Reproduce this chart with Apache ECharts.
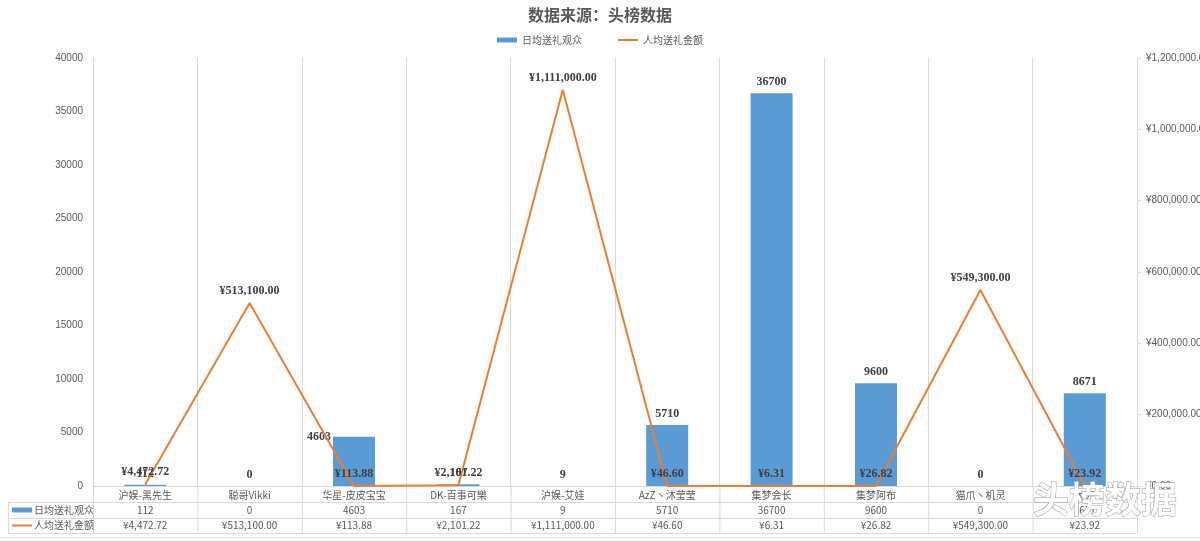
<!DOCTYPE html>
<html><head><meta charset="utf-8">
<script src="https://cdn.jsdelivr.net/npm/echarts@6/dist/echarts.min.js"></script>
<style>html,body{margin:0;padding:0;background:#fff}#c{width:1200px;height:541px}</style>
</head><body><div id="c"></div>
<script>
const categories = ['沪娱-黑先生','聪哥Vikki','华星-皮皮宝宝','DK-百事可樂','沪娱-艾娃','AzZ丶沐莹莹','集梦会长','集梦阿布','猫爪丶机灵','大刀'];
const audience = [112, 0, 4603, 167, 9, 5710, 36700, 9600, 0, 8671];
const amount = [4472.72, 513100, 113.88, 2101.22, 1111000, 46.60, 6.31, 26.82, 549300, 23.92];
const audienceTableText = ['112','0','4603','167','9','5710','36700','9600','0','8671'];
const amountTableText = ['¥4,472.72','¥513,100.00','¥113.88','¥2,101.22','¥1,111,000.00','¥46.60','¥6.31','¥26.82','¥549,300.00','¥23.92'];
const seriesNames = ['日均送礼观众','人均送礼金额'];

const fmtYen = v => '¥' + Number(v).toLocaleString('en-US',{minimumFractionDigits:2, maximumFractionDigits:2});
const gray = '#595959', lineGray = '#d9d9d9';
const labelFont = {fontFamily:'Liberation Serif', fontWeight:'bold', fontSize:12, color:'#404040'};

const chart = echarts.init(document.getElementById('c'));
const barData = audience.map((v,i) => i === 2 ? {value:v, label:{position:[-2,0], align:'right', verticalAlign:'middle'}} : v);

chart.setOption({
  animation:false,
  title:{text:'数据来源：头榜数据', left:'center', top:2, textStyle:{fontFamily:'Noto Sans CJK SC', fontSize:16, fontWeight:'bold', color:gray}},
  legend:{top:30, left:'center', itemWidth:20, itemHeight:5, itemGap:36,
    textStyle:{fontFamily:'Noto Sans CJK SC', fontSize:10, color:gray},
    data:[{name:seriesNames[0], icon:'rect'},
          {name:seriesNames[1], icon:'path://M0,0L0.01,0L0.01,0.01L0,0.01Z M0,1.6L20,1.6L20,3.4L0,3.4Z M19.99,4.99L20,4.99L20,5L19.99,5Z'}]},
  grid:{left:93, right:63, top:58, bottom:55, containLabel:false, outerBoundsMode:'none'},
  xAxis:{type:'category', data:categories,
    axisLine:{show:true, lineStyle:{color:lineGray}}, axisTick:{show:false},
    splitLine:{show:true, lineStyle:{color:lineGray}},
    axisLabel:{margin:4, fontFamily:'Noto Sans CJK SC', fontSize:10, color:gray, interval:0}},
  yAxis:[
    {type:'value', min:0, max:40000, interval:5000, position:'left',
      axisLine:{show:true, lineStyle:{color:lineGray}}, axisTick:{show:false}, splitLine:{show:false},
      axisLabel:{fontFamily:'Liberation Sans', fontSize:10, color:gray, margin:10, formatter:v => String(v)}},
    {type:'value', min:0, max:1200000, interval:200000, position:'right',
      axisLine:{show:true, lineStyle:{color:lineGray}}, axisTick:{show:true, inside:false, length:4, lineStyle:{color:lineGray}}, splitLine:{show:false},
      axisLabel:{fontFamily:'Liberation Sans', fontSize:10, color:gray, margin:9, formatter:fmtYen}}
  ],
  series:[
    {name:seriesNames[0], type:'bar', data:barData, barWidth:42, yAxisIndex:0, itemStyle:{color:'#5b9bd5'},
      label:Object.assign({show:true, position:'top', distance:5}, labelFont), z:2},
    {name:seriesNames[1], type:'line', data:amount, yAxisIndex:1, symbol:'circle', symbolSize:0, showSymbol:true,
      lineStyle:{color:'#ed7d31', width:2}, itemStyle:{color:'#ed7d31'},
      label:Object.assign({show:true, position:'top', distance:6, formatter:p => fmtYen(p.value)}, labelFont), z:3}
  ]
});

// data table below the chart, positioned from the axis scale
const c0 = chart.convertToPixel({xAxisIndex:0}, 0);
const c1 = chart.convertToPixel({xAxisIndex:0}, 1);
const bw = c1 - c0;
const x0 = c0 - bw/2, xEnd = x0 + bw*categories.length;
const yAxisBase = chart.convertToPixel({yAxisIndex:0}, 0);
const r1 = yAxisBase + 16, r2 = r1 + 16, r3 = r2 + 15;
const tableLeft = 8;
const ls = {stroke:lineGray, lineWidth:1};
const els = [];
const hl = (xa, xb, y) => els.push({type:'line', shape:{x1:xa, y1:y+0.5, x2:xb, y2:y+0.5}, style:ls, silent:true});
const vl = (x, ya, yb) => els.push({type:'line', shape:{x1:x+0.5, y1:ya, x2:x+0.5, y2:yb}, style:ls, silent:true});
hl(tableLeft, xEnd, r1); hl(tableLeft, xEnd, r2); hl(tableLeft, xEnd, r3);
vl(tableLeft, r1, r3);
for (let i = 0; i <= categories.length; i++) vl(x0 + bw*i, yAxisBase, r3);
const txt = (x, y, s, align) => els.push({type:'text', x:x, y:y, style:{text:s, fill:gray, font:'10px "Noto Sans CJK SC"', align:align||'center', verticalAlign:'middle'}, silent:true});
categories.forEach((c, i) => {
  const cx = chart.convertToPixel({xAxisIndex:0}, i);
  txt(cx, (r1+r2)/2, audienceTableText[i]);
  txt(cx, (r2+r3)/2, amountTableText[i]);
});
els.push({type:'rect', shape:{x:12, y:(r1+r2)/2-2.5, width:20, height:5}, style:{fill:'#5b9bd5'}, silent:true});
els.push({type:'line', shape:{x1:12, y1:(r2+r3)/2, x2:32, y2:(r2+r3)/2}, style:{stroke:'#ed7d31', lineWidth:2}, silent:true});
txt(34, (r1+r2)/2, seriesNames[0], 'left');
txt(34, (r2+r3)/2, seriesNames[1], 'left');
// bottom strip line
els.push({type:'line', shape:{x1:0, y1:537.5, x2:1200, y2:537.5}, style:{stroke:'#e0e0e0', lineWidth:1}, silent:true});
// watermark
els.push({type:'text', x:1105, y:499, z:100, style:{text:'头榜数据', font:'bold 36px "Noto Sans CJK SC"', fill:'#ffffff', stroke:'#9a9a9a', lineWidth:1, align:'center', verticalAlign:'middle'}, silent:true});
chart.setOption({graphic:{elements:els}});
</script></body></html>
